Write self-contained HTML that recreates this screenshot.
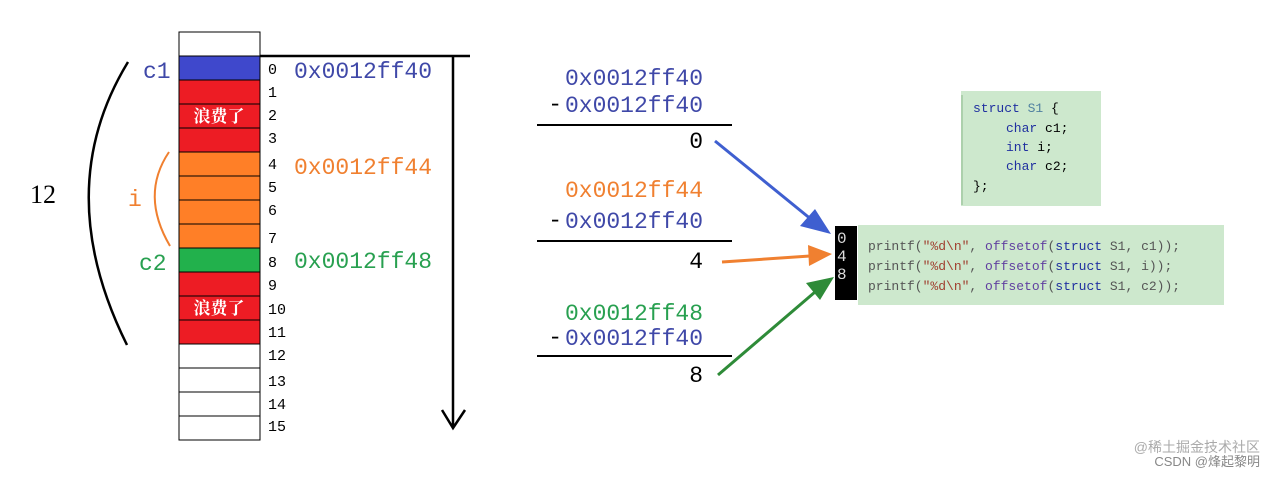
<!DOCTYPE html>
<html><head><meta charset="utf-8"><style>
body{margin:0;background:#fff}
svg text{font-family:"Liberation Serif","Noto Serif CJK SC",serif}
svg .m text, svg text.m{font-family:"Liberation Mono","Noto Sans CJK SC",monospace}
</style></head><body>
<svg width="1275" height="476" viewBox="0 0 1275 476" xmlns="http://www.w3.org/2000/svg">
<g stroke="#000" stroke-width="1">
<rect x="179" y="32" width="81" height="24" fill="#fff"/>
<rect x="179" y="56" width="81" height="24" fill="#3f48cc"/>
<rect x="179" y="80" width="81" height="24" fill="#ed1c24"/>
<rect x="179" y="104" width="81" height="24" fill="#ed1c24"/>
<rect x="179" y="128" width="81" height="24" fill="#ed1c24"/>
<rect x="179" y="152" width="81" height="24" fill="#ff7f27"/>
<rect x="179" y="176" width="81" height="24" fill="#ff7f27"/>
<rect x="179" y="200" width="81" height="24" fill="#ff7f27"/>
<rect x="179" y="224" width="81" height="24" fill="#ff7f27"/>
<rect x="179" y="248" width="81" height="24" fill="#22b14c"/>
<rect x="179" y="272" width="81" height="24" fill="#ed1c24"/>
<rect x="179" y="296" width="81" height="24" fill="#ed1c24"/>
<rect x="179" y="320" width="81" height="24" fill="#ed1c24"/>
<rect x="179" y="344" width="81" height="24" fill="#fff"/>
<rect x="179" y="368" width="81" height="24" fill="#fff"/>
<rect x="179" y="392" width="81" height="24" fill="#fff"/>
<rect x="179" y="416" width="81" height="24" fill="#fff"/>
</g>
<text x="219" y="122" font-size="17" fill="#fff" text-anchor="middle" font-weight="bold">浪费了</text>
<text x="219" y="314" font-size="17" fill="#fff" text-anchor="middle" font-weight="bold">浪费了</text>
<g font-size="15" fill="#000" class="m">
<text x="268" y="74">0</text><text x="268" y="97">1</text><text x="268" y="120">2</text><text x="268" y="143">3</text>
<text x="268" y="169">4</text><text x="268" y="192">5</text><text x="268" y="215">6</text><text x="268" y="243">7</text>
<text x="268" y="267">8</text><text x="268" y="290">9</text><text x="268" y="314">10</text><text x="268" y="337">11</text>
<text x="268" y="360">12</text><text x="268" y="386">13</text><text x="268" y="409">14</text><text x="268" y="431">15</text>
</g>
<g font-size="23" class="m">
<text x="294" y="78" fill="#3f48a8">0x0012ff40</text>
<text x="294" y="174" fill="#f08030">0x0012ff44</text>
<text x="294" y="268" fill="#28a050">0x0012ff48</text>
<text x="143" y="78" fill="#3f48a8">c1</text>
<text x="139" y="270" fill="#28a050">c2</text>
<text x="128" y="206" fill="#f08030">i</text>
</g>
<text x="30" y="203" fill="#000" font-size="26">12</text>
<path d="M128,62 Q50,190 127,345" fill="none" stroke="#000" stroke-width="2.5"/>
<path d="M169,152 Q140,195 170,246" fill="none" stroke="#f08030" stroke-width="2"/>
<path d="M260,56 H470 M453,56 V427 M442,410 L453,428 L465,410" fill="none" stroke="#000" stroke-width="2.5"/>
<g font-size="23" text-anchor="end" class="m">
<text x="703" y="85" fill="#3f48a8">0x0012ff40</text>
<text x="703" y="112" fill="#3f48a8">0x0012ff40</text>
<text x="703" y="148" fill="#000">0</text>
<text x="703" y="197" fill="#f08030">0x0012ff44</text>
<text x="703" y="228" fill="#3f48a8">0x0012ff40</text>
<text x="703" y="268" fill="#000">4</text>
<text x="703" y="320" fill="#28a050">0x0012ff48</text>
<text x="703" y="345" fill="#3f48a8">0x0012ff40</text>
<text x="703" y="382" fill="#000">8</text>
<text x="562" y="111" fill="#000">-</text>
<text x="562" y="227" fill="#000">-</text>
<text x="562" y="344" fill="#000">-</text>
</g>
<path d="M537,125 H732 M537,241 H732 M537,356 H732" stroke="#000" stroke-width="2"/>
<line x1="715" y1="141" x2="812" y2="220" stroke="#3f5fd0" stroke-width="3"/>
<polygon points="831,234 800,226 815,209" fill="#3f5fd0"/>
<line x1="722" y1="262" x2="810" y2="256" stroke="#f08030" stroke-width="3"/>
<polygon points="832,254 808,245 809,266" fill="#f08030"/>
<line x1="718" y1="375" x2="815" y2="292" stroke="#2e8b38" stroke-width="3"/>
<polygon points="834,277 806,283 820,300" fill="#2e8b38"/>
<rect x="961" y="91" width="140" height="115" fill="#cde8cd"/>
<line x1="962" y1="95" x2="962" y2="205" stroke="#8ab88a"/>
<g class="m" font-size="13">
<text x="973" y="112" fill="#2030a0">struct <tspan fill="#5080a0">S1</tspan><tspan fill="#000"> {</tspan></text>
<text x="1006" y="132" fill="#2030a0">char <tspan fill="#000">c1;</tspan></text>
<text x="1006" y="151" fill="#2030a0">int <tspan fill="#000">i;</tspan></text>
<text x="1006" y="170" fill="#2030a0">char <tspan fill="#000">c2;</tspan></text>
<text x="973" y="190" fill="#000">};</text>
</g>
<rect x="835" y="226" width="22" height="74" fill="#000"/>
<g class="m" font-size="16" fill="#ddd"><text x="837" y="243">0</text><text x="837" y="261">4</text><text x="837" y="279">8</text></g>
<rect x="858" y="225" width="366" height="80" fill="#cde8cd"/>
<g class="m" font-size="13" fill="#555">
<text x="868" y="250">printf(<tspan fill="#a04030">"%d\n"</tspan>, <tspan fill="#6040a0">offsetof</tspan>(<tspan fill="#2030a0">struct</tspan> S1, c1));</text>
<text x="868" y="270">printf(<tspan fill="#a04030">"%d\n"</tspan>, <tspan fill="#6040a0">offsetof</tspan>(<tspan fill="#2030a0">struct</tspan> S1, i));</text>
<text x="868" y="290">printf(<tspan fill="#a04030">"%d\n"</tspan>, <tspan fill="#6040a0">offsetof</tspan>(<tspan fill="#2030a0">struct</tspan> S1, c2));</text>
</g>
<text x="1260" y="452" font-size="14" fill="#aaa" text-anchor="end" style="font-family:'Liberation Sans','Noto Sans CJK SC',sans-serif">@稀土掘金技术社区</text>
<text x="1260" y="466" font-size="13" fill="#888" text-anchor="end" style="font-family:'Liberation Sans','Noto Sans CJK SC',sans-serif">CSDN @烽起黎明</text>
</svg>
</body></html>
